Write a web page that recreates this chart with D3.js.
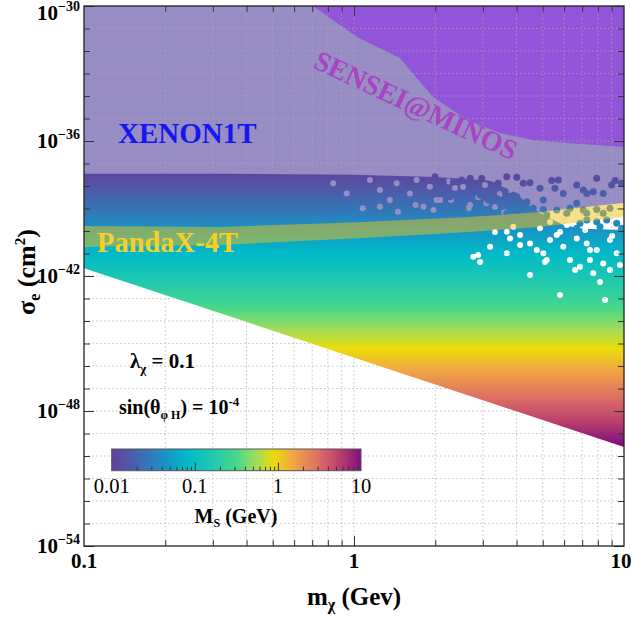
<!DOCTYPE html>
<html>
<head>
<meta charset="utf-8">
<script src="https://cdn.jsdelivr.net/npm/d3@7"></script>
<style>
  body { margin: 0; background: #fff; }
  text { font-family: "Liberation Serif", "Times New Roman", serif; font-weight: bold; }
</style>
</head>
<body>
<script>
// ---- chart values ----
var xDomain = [0.1, 10];          // m_chi (GeV)
var yDomainExp = [-54, -30];      // log10 sigma_e (cm^2)
var yLabelExps = [-30, -36, -42, -48, -54];
var xLabelVals = [0.1, 1, 10];
var cbarLabelVals = [0.01, 0.1, 1, 10];

// region outlines as [log10 m, log10 sigma]
var senseiEdge = [[-0.152, -30.0], [0.011, -31.38], [0.170, -32.31], [0.207, -32.84], [0.293, -34.04],
  [0.419, -35.07], [0.541, -35.64], [0.663, -35.96], [0.789, -36.09], [1.0, -36.27]];
var pandaxTop = [[-1, -39.78], [-0.493, -39.82], [0.033, -39.60], [0.426, -39.38], [0.689, -39.16], [1.0, -38.76]];
var pandaxBottom = [[-1, -40.71], [-0.493, -40.62], [0.033, -40.31], [0.426, -40.04], [0.689, -39.82], [1.0, -39.38]];
var scanTop = [[-1, -37.45], [-0.5, -37.45], [0.0, -37.5], [0.3, -37.6], [0.5, -37.75], [0.6, -38.3],
  [0.66, -39.0], [0.72, -39.4], [0.78, -39.75], [0.85, -39.9], [1.0, -39.95]];
var scanBottom = [[1.0, -49.6], [-1, -41.65]];

// loose scan points outside the dense area
var scanDots = [[0.300, -37.59], [0.331, -37.85], [0.368, -37.81], [0.399, -37.73], [0.430, -37.66], [0.473, -37.66],
  [0.510, -37.96], [0.534, -37.88], [0.566, -37.59], [0.603, -37.61], [0.627, -37.88], [0.652, -37.85],
  [0.689, -38.10], [0.732, -37.76], [0.757, -37.73], [0.744, -38.10], [0.775, -38.33], [0.825, -37.96],
  [0.849, -38.18], [0.862, -38.33], [0.886, -38.25], [0.899, -37.66], [0.954, -37.96], [0.967, -37.76],
  [0.991, -37.88], [0.923, -38.33], [0.825, -38.77], [0.701, -38.62], [0.603, -38.48], [0.560, -38.25],
  [0.529, -38.55], [0.498, -38.62], [0.467, -38.40], [0.442, -38.18], [0.417, -38.33], [0.386, -38.62],
  [0.356, -38.48], [0.325, -38.33], [0.306, -38.10], [0.343, -38.92], [0.405, -39.07], [0.467, -38.99],
  [0.547, -38.92], [0.621, -38.92], [0.664, -38.99], [0.640, -38.70], [0.585, -38.80],
  [0.566, -39.21], [0.603, -39.07], [0.652, -39.14], [0.701, -39.04], [0.751, -39.07], [0.800, -38.99],
  [0.849, -39.07], [0.899, -39.04], [0.948, -38.99], [0.640, -39.36], [0.714, -39.29], [0.788, -39.21],
  [0.862, -39.21], [0.923, -39.21], [0.588, -39.36],
  [0.837, -39.66], [0.862, -39.51], [0.899, -39.59], [0.936, -39.51], [0.973, -39.66], [0.825, -39.88],
  [0.911, -39.81], [0.991, -39.88]];

// empty spots inside the dense area
var scanGaps = [[-0.077, -37.88], [-0.027, -38.33], [0.059, -37.73], [0.096, -38.18], [0.133, -38.62],
  [0.158, -37.88], [0.207, -38.33], [0.257, -38.92], [0.281, -38.03], [0.306, -38.62], [0.232, -37.73],
  [0.096, -38.92], [0.032, -38.99], [0.163, -39.14], [0.228, -38.84], [0.294, -39.07], [0.359, -38.62],
  [0.425, -38.99], [0.490, -38.77], [0.556, -39.14],
  [0.319, -38.62], [0.374, -38.09], [0.430, -38.84], [0.485, -37.96], [0.522, -38.93], [0.578, -38.18],
  [0.404, -38.04], [0.350, -37.80], [0.460, -38.50], [0.540, -38.35],
  [0.442, -41.14], [0.460, -41.07], [0.566, -40.03], [0.578, -40.33], [0.615, -40.18], [0.652, -40.55],
  [0.677, -40.84], [0.701, -40.99], [0.726, -40.40], [0.751, -40.18], [0.775, -40.70], [0.800, -41.29],
  [0.825, -40.33], [0.862, -40.55], [0.874, -41.29], [0.899, -40.84], [0.923, -41.44], [0.948, -40.40],
  [0.973, -40.99], [0.566, -40.99], [0.714, -41.29], [0.837, -41.59], [0.886, -41.88], [0.948, -41.73],
  [0.504, -40.70], [0.590, -39.81], [0.689, -39.88], [0.788, -39.73],
  [0.615, -40.62], [0.707, -41.38], [0.763, -40.04], [0.819, -41.73], [0.856, -39.96], [0.911, -42.27],
  [0.956, -40.22], [0.985, -41.51], [0.652, -41.96], [0.763, -42.84], [0.930, -43.07], [0.522, -40.04],
  [0.467, -41.38], [0.874, -40.84], [0.726, -39.60]];

// colour map: position along the M_S bar (0 = 0.01 GeV, 1 = 10 GeV)
var cmapStops = [0, 0.1, 0.2, 0.3, 0.4, 0.5, 0.58, 0.65, 0.73, 0.83, 0.92, 1];
var cmapColors = ["#62409c", "#4564ae", "#1e8cc3", "#00b9c8", "#1ec8af", "#46d78c", "#a0dc5a",
  "#ebdc0a", "#f0a546", "#dc6e64", "#b93c6e", "#7d0f7d"];
var colorSigma = [-37.3, -49.5];  // log10 sigma at M_S = 0.01 and 10 GeV

// ---- set up ----
var svgWidth = 632, svgHeight = 617;
var margin = { top: 6, right: 8, bottom: 71, left: 84 };
var x0 = margin.left, x1 = svgWidth - margin.right;
var y0 = margin.top, y1 = svgHeight - margin.bottom;

var svg = d3.select("body").append("svg")
  .attr("width", svgWidth)
  .attr("height", svgHeight);

var x = d3.scaleLog().domain(xDomain).range([x0, x1]);
var y = d3.scaleLog().domain(yDomainExp.map(function(e) { return Math.pow(10, e); })).range([y1, y0]);

function px(d) { return x(Math.pow(10, d[0])); }
function py(d) { return y(Math.pow(10, d[1])); }
var line = d3.line().x(px).y(py);

var tScale = d3.scaleLinear().domain(colorSigma).range([0, 1]).clamp(true);
var cmap = d3.scaleLinear().domain(cmapStops).range(cmapColors);

var defs = svg.append("defs");
defs.append("clipPath").attr("id", "plotClip")
  .append("rect").attr("x", x0).attr("y", y0).attr("width", x1 - x0).attr("height", y1 - y0);

var grad = defs.append("linearGradient").attr("id", "scanGrad")
  .attr("gradientUnits", "userSpaceOnUse")
  .attr("x1", 0).attr("x2", 0)
  .attr("y1", y(Math.pow(10, colorSigma[0]))).attr("y2", y(Math.pow(10, colorSigma[1])));
grad.selectAll("stop").data(cmapStops).enter().append("stop")
  .attr("offset", function(d) { return d; })
  .attr("stop-color", function(d, i) { return cmapColors[i]; });

var mask = defs.append("mask").attr("id", "gapMask");
mask.append("rect").attr("x", 0).attr("y", 0).attr("width", svgWidth).attr("height", svgHeight).attr("fill", "#fff");
mask.selectAll("circle").data(scanGaps).enter().append("circle")
  .attr("cx", px).attr("cy", py).attr("r", 3).attr("fill", "#000");

var plot = svg.append("g").attr("clip-path", "url(#plotClip)");

// XENON1T excluded region
var xenonPoly = [[-1, -30], [1, -30]].concat(pandaxTop.slice().reverse());
plot.append("path").attr("d", line(xenonPoly) + "Z").attr("fill", "#978dc4");

// SENSEI@MINOS
var senseiPoly = senseiEdge.concat([[1, -30]]);
plot.append("path").attr("d", line(senseiPoly) + "Z").attr("fill", "#9254d8");

// grid
var minorX = x.ticks().filter(function(v) { return v > xDomain[0] && v < xDomain[1]; });
var gridExps = d3.range(yDomainExp[0] + 1, yDomainExp[1]);
var grid = plot.append("g").attr("stroke", "#aaa").attr("stroke-dasharray", "1.5,2.5").attr("stroke-width", 1).attr("opacity", 0.7);
grid.selectAll("line.gx").data(minorX).enter().append("line")
  .attr("x1", function(d) { return x(d); }).attr("x2", function(d) { return x(d); })
  .attr("y1", y0).attr("y2", y1);
grid.selectAll("line.gy").data(gridExps).enter().append("line")
  .attr("y1", function(d) { return y(Math.pow(10, d)); }).attr("y2", function(d) { return y(Math.pow(10, d)); })
  .attr("x1", x0).attr("x2", x1);

// scan points: dense part + loose points
var scanPoly = scanTop.concat(scanBottom);
plot.append("path").attr("d", line(scanPoly) + "Z")
  .attr("fill", "url(#scanGrad)").attr("mask", "url(#gapMask)");
plot.selectAll("circle.dot").data(scanDots).enter().append("circle")
  .attr("class", "dot")
  .attr("cx", px).attr("cy", py).attr("r", 3.5)
  .attr("fill", function(d) { return cmap(tScale(d[1])); });

// PandaX-4T band
var pandaxPoly = pandaxTop.concat(pandaxBottom.slice().reverse());
plot.append("path").attr("d", line(pandaxPoly) + "Z").attr("fill", "#ebc319").attr("opacity", 0.5);

// frame + ticks
function inwardAxis(axisFn, scale, values, size, tx, ty) {
  var g = svg.append("g").attr("transform", "translate(" + tx + "," + ty + ")")
    .call(axisFn(scale).tickValues(values).tickSize(-size).tickFormat(""));
  g.select(".domain").remove();
  g.selectAll("line").attr("stroke", "#333").attr("stroke-width", 1);
}
var majorY = yLabelExps.map(function(e) { return Math.pow(10, e); });
var minorY = gridExps.filter(function(e) { return yLabelExps.indexOf(e) < 0; }).map(function(e) { return Math.pow(10, e); });
var minorXt = minorX.filter(function(v) { return xLabelVals.indexOf(v) < 0; });
inwardAxis(d3.axisLeft, y, minorY, 6, x0, 0);
inwardAxis(d3.axisLeft, y, majorY, 10, x0, 0);
inwardAxis(d3.axisRight, y, minorY, 6, x1, 0);
inwardAxis(d3.axisRight, y, majorY, 10, x1, 0);
inwardAxis(d3.axisBottom, x, minorXt, 6, 0, y1);
inwardAxis(d3.axisBottom, x, [1], 10, 0, y1);
inwardAxis(d3.axisTop, x, minorXt, 6, 0, y0);
inwardAxis(d3.axisTop, x, [1], 10, 0, y0);

svg.append("rect").attr("x", x0).attr("y", y0).attr("width", x1 - x0).attr("height", y1 - y0)
  .attr("fill", "none").attr("stroke", "#222").attr("stroke-width", 1.3);

// tick labels
var yl = svg.selectAll("text.ylab").data(yLabelExps).enter().append("text")
  .attr("class", "ylab")
  .attr("x", x0 - 4)
  .attr("y", function(d) { return Math.max(y(Math.pow(10, d)) + 7, 20); })
  .attr("text-anchor", "end")
  .attr("font-size", 21);
yl.append("tspan").text("10");
yl.append("tspan").attr("dy", -9).attr("font-size", 14).text(function(d) { return "\u2212" + (-d); });

svg.selectAll("text.xlab").data(xLabelVals).enter().append("text")
  .attr("class", "xlab")
  .attr("x", function(d) { return Math.min(x(d), x1 - 3); })
  .attr("y", y1 + 22)
  .attr("text-anchor", "middle")
  .attr("font-size", 21)
  .text(function(d) { return d; });

// axis titles
var xt = svg.append("text").attr("x", (x0 + x1) / 2).attr("y", 605)
  .attr("text-anchor", "middle").attr("font-size", 25);
xt.append("tspan").text("m");
xt.append("tspan").attr("dy", 5).attr("font-size", 16).text("\u03c7");
xt.append("tspan").attr("dy", -5).text(" (Gev)");

var yt = svg.append("text").attr("transform", "translate(35,272) rotate(-90)")
  .attr("text-anchor", "middle").attr("font-size", 26);
yt.append("tspan").text("\u03c3");
yt.append("tspan").attr("dy", 5).attr("font-size", 16).text("e");
yt.append("tspan").attr("dy", -5).text(" (cm");
yt.append("tspan").attr("dy", -10).attr("font-size", 15).text("2");
yt.append("tspan").attr("dy", 10).text(")");

// region labels
svg.append("text").attr("x", 118).attr("y", 143).attr("font-size", 29).attr("fill", "#1616ee").text("XENON1T");
svg.append("text").attr("x", 97).attr("y", 252).attr("font-size", 28.5).attr("fill", "#f7cf2c").text("PandaX-4T");
svg.append("text").attr("transform", "translate(416,105) rotate(25)")
  .attr("text-anchor", "middle").attr("dy", "0.35em").attr("font-size", 28)
  .attr("fill", "#a844c6").text("SENSEI@MINOS");

// parameter notes
var t1 = svg.append("text").attr("x", 130).attr("y", 368).attr("font-size", 21);
t1.append("tspan").text("\u03bb");
t1.append("tspan").attr("dy", 5).attr("font-size", 13).text("\u03c7");
t1.append("tspan").attr("dy", -5).text(" = 0.1");

var t2 = svg.append("text").attr("x", 119).attr("y", 414).attr("font-size", 20);
t2.append("tspan").text("sin(\u03b8");
t2.append("tspan").attr("dy", 5).attr("font-size", 12).text("\u03c6 H");
t2.append("tspan").attr("dy", -5).text(") = 10");
t2.append("tspan").attr("dy", -8).attr("font-size", 13).text("-4");

// colour bar
var cbX0 = 111.7, cbX1 = 361, cbY0 = 449, cbY1 = 470.7;
var cb = d3.scaleLog().domain([0.01, 10]).range([cbX0, cbX1]);
var cbGrad = defs.append("linearGradient").attr("id", "cbGrad")
  .attr("gradientUnits", "userSpaceOnUse")
  .attr("x1", cbX0).attr("x2", cbX1).attr("y1", 0).attr("y2", 0);
cbGrad.selectAll("stop").data(cmapStops).enter().append("stop")
  .attr("offset", function(d) { return d; })
  .attr("stop-color", function(d, i) { return cmapColors[i]; });
svg.append("rect").attr("x", cbX0).attr("y", cbY0).attr("width", cbX1 - cbX0).attr("height", cbY1 - cbY0)
  .attr("fill", "url(#cbGrad)");
var cbMinor = cb.ticks().filter(function(v) { return cbarLabelVals.indexOf(v) < 0; });
inwardAxis(d3.axisBottom, cb, cbMinor, 4, 0, cbY1);
inwardAxis(d3.axisBottom, cb, [0.1, 1], 8, 0, cbY1);
svg.append("rect").attr("x", cbX0).attr("y", cbY0).attr("width", cbX1 - cbX0).attr("height", cbY1 - cbY0)
  .attr("fill", "none").attr("stroke", "#555").attr("stroke-width", 1);

svg.selectAll("text.cblab").data(cbarLabelVals).enter().append("text")
  .attr("class", "cblab")
  .attr("x", function(d) { return cb(d); })
  .attr("y", 493)
  .attr("text-anchor", "middle")
  .attr("font-size", 20.5)
  .style("font-weight", "normal")
  .text(function(d) { return d; });

var cbt = svg.append("text").attr("x", 236).attr("y", 523).attr("text-anchor", "middle").attr("font-size", 20);
cbt.append("tspan").text("M");
cbt.append("tspan").attr("dy", 4).attr("font-size", 12).text("S");
cbt.append("tspan").attr("dy", -4).text(" (GeV)");
</script>
</body>
</html>
